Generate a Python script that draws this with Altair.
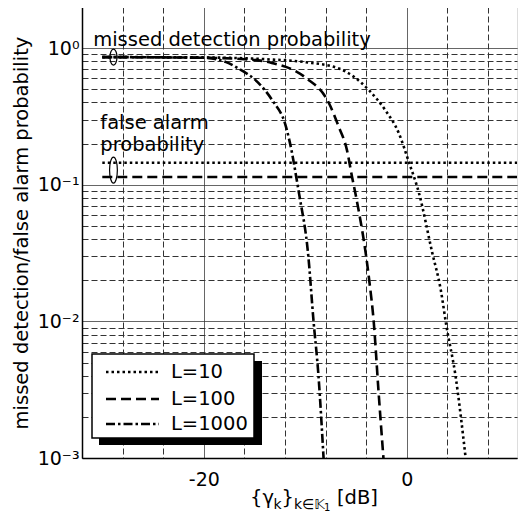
import altair as alt
import pandas as pd

FONT = "DejaVu Sans"

# ---------------- data ----------------
L_labels = ["L=10", "L=100", "L=1000"]
dash_patterns = [[2.5, 3], [10, 5], [9, 3, 2.5, 3]]

md_x_L10 = [-30, -20, -14, -10, -6.7, -3.7, -2.1, -0.8, 0.2, 1.2, 2.5, 3.35, 3.9, 4.8, 5.8]
md_y_L10 = [0.86, 0.855, 0.83, 0.79, 0.71, 0.49, 0.35, 0.24, 0.147, 0.087, 0.032, 0.017, 0.0093, 0.004, 0.001]

md_x_L100 = [-30, -20, -16, -13.3, -10, -7.7, -6.7, -5.9, -5.4, -5.0, -3.7, -3.25, -2.8, -2.3]
md_y_L100 = [0.86, 0.85, 0.83, 0.78, 0.61, 0.40, 0.265, 0.18, 0.115, 0.082, 0.020, 0.0098, 0.0032, 0.001]

md_x_L1000 = [-30, -20, -17.8, -16.6, -14.6, -13.3, -11.9, -11.3, -10.9, -10.6, -9.7, -9.2, -8.7, -8.2]
md_y_L1000 = [0.86, 0.85, 0.79, 0.71, 0.555, 0.42, 0.265, 0.17, 0.115, 0.085, 0.030, 0.0103, 0.004, 0.001]

fa_labels = ["L=10", "L=100"]
fa_x = [-30, 10.86]
fa_y = [0.145, 0.114]

x_domain = [-32, 10.86]
y_domain = [0.001, 2]
x_tick_labels = {-20: "-20", 0: "0"}
y_tick_labels = ["10⁻³", "10⁻²", "10⁻¹", "10⁰"]

annot_md = "missed detection probability"
annot_fa = ["false alarm", "probability"]
# x-axis title pieces: (text, font size, baseline shift)
x_title_parts = [("{γ", 19.5, 0), ("k", 14, 5), ("}", 19.5, 0), ("k∈𝕂", 14, 5), ("1", 10, 7), ("[dB]", 19.5, 0)]
x_title_widths = [23.5, 8.1, 12.4, 30.0, 13.0, 40.0]
y_title = "missed detection/false alarm probability"

W, H = 435, 451

# ---------------- tables ----------------
rows = []
for lab, xs, ys in zip(L_labels, [md_x_L10, md_x_L100, md_x_L1000],
                       [md_y_L10, md_y_L100, md_y_L1000]):
    for i, (x, y) in enumerate(zip(xs, ys)):
        rows.append({"L": lab, "series": "md " + lab, "x": x, "y": y, "o": i})
for lab, yv in zip(fa_labels, fa_y):
    for i, x in enumerate(fa_x):
        rows.append({"L": lab, "series": "fa " + lab, "x": x, "y": yv, "o": i})
df = pd.DataFrame(rows)

x_vals = list(range(-32, 11))
y_vals = [k * 10.0 ** e for e in range(-3, 0) for k in range(1, 10)] + [1, 2]

dec = "abs(log(datum.value)/LN10 - round(log(datum.value)/LN10)) < 1e-6"
y_label_expr = (f"({dec}) ? [" + ",".join(f"'{t}'" for t in y_tick_labels)
                + "][round(log(datum.value)/LN10)+3] : ''")
x_label_expr = " : ".join(f"datum.value == {k} ? '{v}'" for k, v in x_tick_labels.items()) + " : ''"

x_axis = alt.Axis(
    values=x_vals, labelExpr=x_label_expr, grid=True, ticks=False,
    domain=True, domainColor="black", domainWidth=1.5,
    gridColor="#333", gridWidth=1, gridOpacity=1,
    gridDash={"condition": {"test": "datum.value % 10 == 0", "value": [1, 0]}, "value": [6, 3]},
    labelFont=FONT, labelFontSize=19, labelColor="black", labelPadding=12,
    title=None,
)
y_axis = alt.Axis(
    values=y_vals, labelExpr=y_label_expr, grid=True, ticks=False,
    domain=True, domainColor="black", domainWidth=1.5,
    gridColor="#333", gridWidth=1, gridOpacity=1,
    gridDash={"condition": {"test": dec, "value": [1, 0]}, "value": [6, 3]},
    labelFont=FONT, labelFontSize=19, labelColor="black", labelPadding=3,
    title=y_title, titleFont=FONT, titleFontSize=19.5, titleFontWeight="normal",
    titleColor="black", titlePadding=6,
)

xs = alt.X("x:Q", scale=alt.Scale(domain=x_domain, nice=False, zero=False), axis=x_axis)
ys = alt.Y("y:Q", scale=alt.Scale(type="log", domain=y_domain, nice=False), axis=y_axis)

lines = alt.Chart(df).mark_line(color="black", strokeWidth=2.6, interpolate="monotone", clip=True).encode(
    x=xs, y=ys,
    strokeDash=alt.StrokeDash("L:N", scale=alt.Scale(domain=L_labels, range=dash_patterns), legend=None),
    detail="series:N", order="o:Q",
)

one = pd.DataFrame({"a": [0]})
top_border = alt.Chart(one).mark_rule(color="black", strokeWidth=1.5).encode(
    x=alt.value(0), x2=alt.value(W), y=alt.value(0))

ell_df1 = pd.DataFrame({"x": [-28.9], "y": [0.86]})
ell_df2 = pd.DataFrame({"x": [-28.9], "y": [0.128]})
ell1 = alt.Chart(ell_df1).mark_point(
    shape="M0,-1A0.44,1 0 1,1 0,1A0.44,1 0 1,1 0,-1Z", size=256, filled=False,
    color="black", strokeWidth=1.2, opacity=1).encode(x="x:Q", y="y:Q")
ell2 = alt.Chart(ell_df2).mark_point(
    shape="M0,-1A0.3,1 0 1,1 0,1A0.3,1 0 1,1 0,-1Z", size=676, filled=False,
    color="black", strokeWidth=1.2, opacity=1).encode(x="x:Q", y="y:Q")

txt_df = pd.DataFrame({"x": [-30.9, -30.2, -30.2], "y": [1.04, 0.256, 0.177],
                       "t": [annot_md] + annot_fa})
texts = alt.Chart(txt_df).mark_text(align="left", baseline="alphabetic", font=FONT,
                                    fontSize=19.5, color="black").encode(x="x:Q", y="y:Q", text="t:N")

# ---------------- x title built from pieces (sub/superscripts) ----------------
title_layers = []
tx = 168
for (t, fs, dy), w in zip(x_title_parts, x_title_widths):
    title_layers.append(alt.Chart(one).mark_text(
        align="left", baseline="alphabetic", font=FONT, fontSize=fs, color="black").encode(
        x=alt.value(tx), y=alt.value(H + 46 + dy), text=alt.value(t)))
    tx += w

# ---------------- legend (drawn box with shadow) ----------------
leg_x0, leg_x1, leg_y0, leg_y1 = 10, 172, 347, 431
shadow = alt.Chart(one).mark_rect(color="black").encode(
    x=alt.value(leg_x0 + 7), x2=alt.value(leg_x1 + 8), y=alt.value(leg_y0 + 7), y2=alt.value(leg_y1 + 7))
box = alt.Chart(one).mark_rect(fill="white", stroke="black", strokeWidth=1.5).encode(
    x=alt.value(leg_x0), x2=alt.value(leg_x1), y=alt.value(leg_y0), y2=alt.value(leg_y1))
leg_layers = [shadow, box]
row_y = [365, 392, 417]
for lab, dash, ry in zip(L_labels, dash_patterns, row_y):
    leg_layers.append(alt.Chart(one).mark_rule(color="black", strokeWidth=2.6, strokeDash=dash).encode(
        x=alt.value(24), x2=alt.value(77), y=alt.value(ry)))
    leg_layers.append(alt.Chart(one).mark_text(align="left", baseline="middle", font=FONT,
                                               fontSize=19.5, color="black").encode(
        x=alt.value(89), y=alt.value(ry), text=alt.value(lab)))

chart = alt.layer(lines, top_border, ell1, ell2, texts, *title_layers, *leg_layers).properties(
    width=W, height=H, padding={"left": 3, "top": -2, "right": 0, "bottom": 0}
).configure_view(stroke=None).configure(background="white")

chart.save("out.html", embed_options={"renderer": "svg", "actions": False})
